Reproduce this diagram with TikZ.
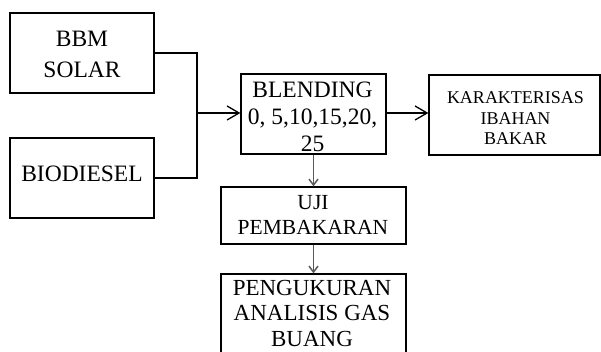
\documentclass[tikz,border=0pt]{standalone}
\usepackage{fontspec}
\setmainfont{Liberation Serif}
\usetikzlibrary{positioning,arrows.meta}
\definecolor{abu}{RGB}{90,90,90}

\begin{document}
\begin{tikzpicture}[x=1pt,y=-1pt,
    kotak/.style={draw,line width=1.3pt,inner sep=0pt},
    teks/.style={anchor=north,align=center,inner sep=0pt},
    panah/.style={line width=1.3pt,-{Straight Barb[length=12pt,width=14pt,line width=1.3pt]}},
    panahturun/.style={abu,line width=1.8pt,-{Straight Barb[length=6pt,width=9pt,line width=1.5pt]}}]
            \useasboundingbox (0,0) rectangle (601,352);
            \clip (0,0) rectangle (601,352);
            \node[kotak,minimum width=144pt,minimum height=80pt] (solar) at (82,53) {};
            \node[kotak,minimum width=144pt,minimum height=80pt] (bio) at (82,178) {};
            \node[kotak,minimum width=145pt,minimum height=80pt] (blend) at (313.5,114) {};
            \node[kotak,minimum width=171pt,minimum height=80pt] (karak) at (514.5,115) {};
            \node[kotak,minimum width=185pt,minimum height=57pt] (uji) at (313.5,215.5) {};
            \node[kotak,minimum width=185pt,minimum height=80pt] (ukur) at (313.5,314) {};
            \node[teks,font=\fontsize{23.5}{31}\selectfont] (tsolar) at (82,30.5) {BBM\\SOLAR};
            \node[teks,font=\fontsize{23.5}{27}\selectfont] (tbio) at (82,166) {BIODIESEL};
            \node[teks,font=\fontsize{23.5}{27}\selectfont] (tblend) at (312.5,81.5) {BLENDING\\0, 5,10,15,20,\\25};
            \node[teks,font=\fontsize{18}{20.5}\selectfont] (tkarak) at (515.5,91.4) {KARAKTERISAS\\IBAHAN\\BAKAR};
            \node[teks,font=\fontsize{21.5}{25}\selectfont] (tuji) at (313,194.8) {UJI\\PEMBAKARAN};
            \node[teks,font=\fontsize{23}{25.4}\selectfont] (tukur) at (312,280) {PENGUKURAN\\ANALISIS GAS\\BUANG};
            \coordinate (gabung) at (197,113);
            \draw[line width=1.3pt] (solar.east) -| (gabung) |- (bio.east);
            \draw[panah] (gabung) -- (gabung -| blend.west);
            \draw[panah] (blend.east |- gabung) -- (gabung -| karak.west);
            \draw[panahturun] (blend.south) -- (uji.north);
            \draw[panahturun] (uji.south) -- (ukur.north);
        \end{tikzpicture}
\end{document}
